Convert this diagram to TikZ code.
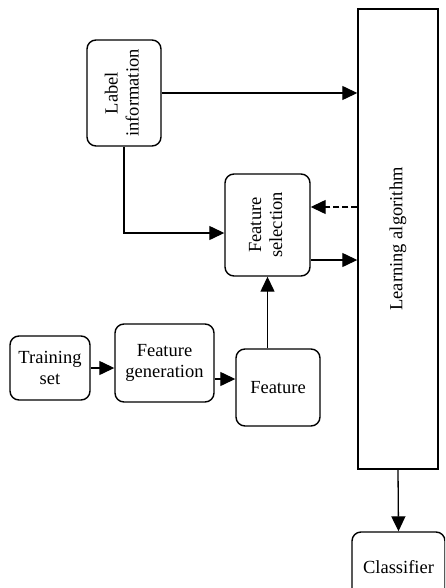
\documentclass[tikz,border=0pt]{standalone}
\usepackage{fontspec}
\setmainfont{Liberation Serif}
\usepackage{tikz}
\usetikzlibrary{arrows.meta,positioning}

\begin{document}
\begin{tikzpicture}[
    x=1pt, y=-1pt,
    box/.style={rectangle, draw, rounded corners=9pt, line width=1.4pt, align=center, inner sep=2pt},
    plain/.style={rectangle, draw, line width=1.4pt, align=center},
    arrow/.style={-{Triangle[length=15pt,width=14pt]}, line width=1.3pt},
    font=\fontsize{18.5}{21}\selectfont
]
    \clip (0,0) rectangle (445,588);

    \node[plain, minimum width=80pt, minimum height=460pt] (learn) at (398,239) {\rotatebox{90}{Learning algorithm}};
    \node[box, minimum width=74pt, minimum height=106pt] (label) at (124,93) {\rotatebox{90}{\begin{tabular}{@{}c@{}}Label\\information\end{tabular}}};
    \node[box, minimum width=85pt, minimum height=102pt] (fsel) at (267.5,225) {\rotatebox{90}{\begin{tabular}{@{}c@{}}Feature\\selection\end{tabular}}};
    \node[box, minimum width=80pt, minimum height=64pt] (train) at (50,368) {Training\\set};
    \node[box, minimum width=99pt, minimum height=78pt] (fgen) at (164.5,363) {Feature\\generation};
    \node[box, minimum width=84pt, minimum height=77pt] (feat) at (278,387.5) {Feature};
    \node[box, minimum width=93pt, minimum height=70pt] (cls) at (398.5,567) {Classifier};

    \draw[arrow] (label.east) -- (label.east -| learn.west);
    \draw[arrow] (label.south) |- ([yshift=-8pt]fsel.west);
    \draw[arrow, dash pattern=on 6pt off 3pt] ([yshift=18pt]fsel.east -| learn.west) -- ([yshift=18pt]fsel.east);
    \draw[arrow] ([yshift=-35pt]fsel.east) -- ([yshift=-35pt]fsel.east -| learn.west);
    \draw[arrow] (fsel.south |- feat.north) -- (fsel.south);
    \draw[arrow] (train.east) -- (train.east -| fgen.west);
    \draw[arrow] ([yshift=-16pt]fgen.east) -- ([yshift=-16pt]fgen.east -| feat.west);
    \draw[arrow] (learn.south) -- (cls.north);
\end{tikzpicture}
\end{document}
